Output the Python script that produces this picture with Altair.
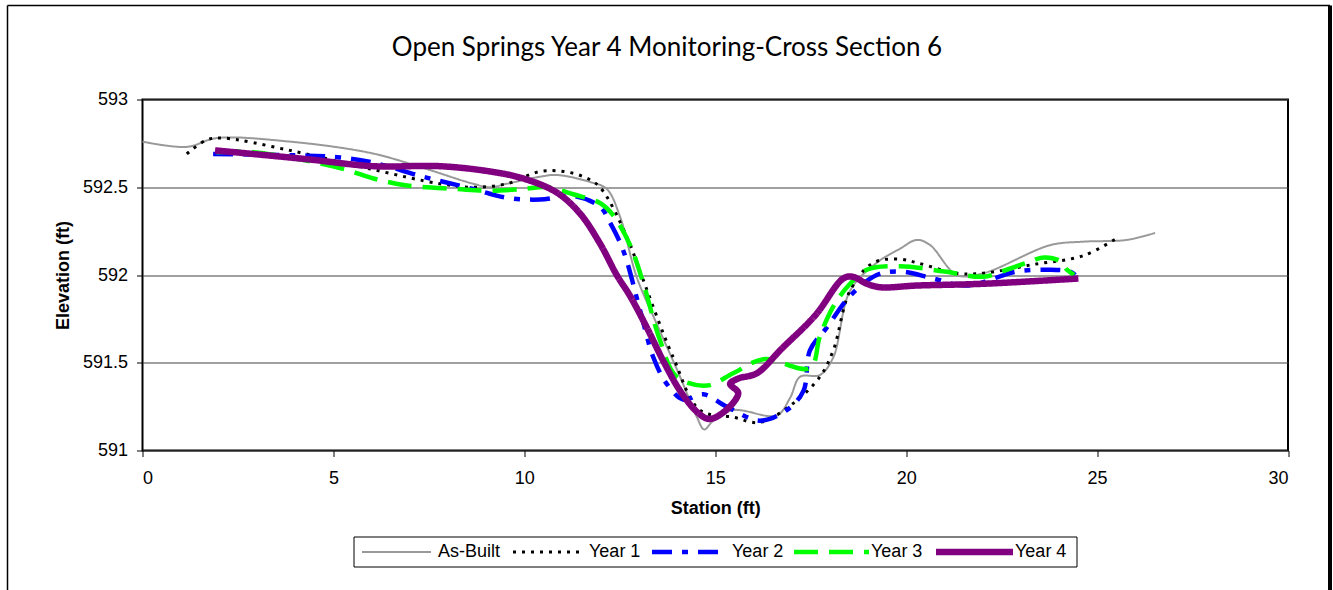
import altair as alt
import pandas as pd

# Series styling
series_names = ["As-Built", "Year 1", "Year 2", "Year 3", "Year 4"]
series_colors = ["#999999", "#000000", "#0000FF", "#00FF00", "#800080"]
series_dashes = [[1, 0], [3, 6], [20, 10, 6, 10], [24, 11], [1, 0]]
series_widths = [2, 3, 4.5, 4.5, 6.5]

# Surveyed cross-section points (station ft, elevation ft)
asbuilt_station = [0, 1.16, 1.94, 3.86, 5.87, 6.92, 8.66, 9.10, 9.54, 10.41, 10.85,
                   11.72, 12.16, 12.51, 12.94, 13.47, 14.08, 14.52, 14.71, 14.95,
                   15.47, 16.61, 16.96, 17.22, 17.74, 18.09, 18.53, 19.23, 19.84,
                   20.28, 20.63, 21.33, 22.02, 23.77, 24.64, 25.78, 26.52]
asbuilt_elev = [592.76, 592.73, 592.78, 592.76, 592.70, 592.64, 592.52, 592.50, 592.52,
                592.56, 592.57, 592.53, 592.49, 592.33, 591.99, 591.72, 591.42, 591.19,
                591.12, 591.17, 591.23, 591.20, 591.30, 591.42, 591.43, 591.53, 591.91,
                592.07, 592.15, 592.20, 592.17, 592.00, 592.01, 592.17, 592.19, 592.20,
                592.24]

year1_station = [1.16, 1.68, 2.12, 3.86, 6.05, 7.79, 8.66, 9.54, 10.41, 11.02, 11.55,
                 11.98, 12.68, 13.03, 13.90, 14.60, 15.47, 16.17, 17.05, 17.74, 18.09,
                 18.53, 19.14, 19.84, 20.28, 21.33, 22.02, 23.33, 24.64, 25.52]
year1_elev = [592.69, 592.77, 592.78, 592.71, 592.60, 592.52, 592.50, 592.52, 592.59,
              592.59, 592.56, 592.50, 592.22, 592.02, 591.53, 591.23, 591.19, 591.16,
              591.27, 591.42, 591.57, 591.91, 592.07, 592.09, 592.07, 592.01, 592.01,
              592.06, 592.11, 592.21]

year2_station = [1.85, 4.30, 5.17, 6.05, 7.35, 8.66, 9.54, 10.41, 11.28, 11.98, 12.24,
                 12.59, 13.03, 13.38, 13.73, 14.16, 14.69, 15.30, 16.17, 16.87, 17.31,
                 17.48, 17.92, 18.53, 19.23, 19.84, 20.71, 21.59, 22.90, 23.77, 24.29,
                 24.43]
year2_elev = [592.69, 592.68, 592.67, 592.64, 592.56, 592.49, 592.44, 592.43, 592.45,
              592.39, 592.30, 592.14, 591.80, 591.53, 591.38, 591.29, 591.32, 591.25,
              591.17, 591.23, 591.34, 591.57, 591.70, 591.88, 592.00, 592.02, 591.98,
              591.94, 592.02, 592.03, 592.02, 592.00]

year3_station = [1.94, 2.90, 5.17, 6.05, 6.92, 8.23, 9.10, 9.97, 10.59, 11.28, 11.98,
                 12.33, 12.77, 13.12, 13.55, 13.99, 14.78, 15.47, 16.26, 17.48, 17.74,
                 18.09, 18.53, 18.97, 19.84, 21.00, 22.02, 22.63, 23.16, 23.60, 24.03,
                 24.21, 24.40]
year3_elev = [592.70, 592.70, 592.61, 592.55, 592.51, 592.49, 592.48, 592.49, 592.50,
              592.46, 592.41, 592.34, 592.17, 591.95, 591.63, 591.42, 591.37, 591.44,
              591.52, 591.47, 591.65, 591.82, 591.95, 592.03, 592.05, 592.02, 591.99,
              592.03, 592.07, 592.10, 592.08, 592.03, 592.00]

year4_station = [1.90, 4.30, 6.05, 7.79, 9.10, 9.97, 10.85, 11.46, 11.98, 12.42, 12.77,
                 13.21, 13.64, 14.08, 14.52, 14.82, 15.10, 15.50, 15.60, 15.39, 15.60,
                 16.09, 16.74, 17.62, 18.35, 18.60, 18.97, 19.32, 20.28, 22.02, 24.51]
year4_elev = [592.71, 592.66, 592.62, 592.62, 592.59, 592.55, 592.47, 592.35, 592.18,
              592.00, 591.88, 591.70, 591.51, 591.34, 591.22, 591.18, 591.20, 591.28,
              591.33, 591.38, 591.41, 591.44, 591.58, 591.77, 591.98, 591.99, 591.95,
              591.93, 591.94, 591.95, 591.98]

x_ticks = [0, 5, 10, 15, 20, 25, 30]
y_ticks = [591, 591.5, 592, 592.5, 593]

chart_title = "Open Springs Year 4 Monitoring-Cross Section 6"

# Legend layout (pixels relative to the plot area's top-left corner)
legend_box = [211.5, 437.5, 934.5, 467.5]
legend_sym_x0 = [219.5, 370.5, 509.5, 651.5, 793.5]
legend_sym_x1 = [288.5, 440.5, 582.5, 726.5, 870.5]
legend_text_x = [295.5, 446.5, 589.5, 728.5, 872.5]
legend_mid_y = 452.5

station_lists = [asbuilt_station, year1_station, year2_station, year3_station, year4_station]
elev_lists = [asbuilt_elev, year1_elev, year2_elev, year3_elev, year4_elev]

rows = []
for name, xs, ys in zip(series_names, station_lists, elev_lists):
    for i, (sx, sy) in enumerate(zip(xs, ys)):
        rows.append({"series": name, "idx": i, "station": sx, "elevation": sy})
df = pd.DataFrame(rows)

PLOT_W = 1145.5
PLOT_H = 351
FONT = "Liberation Sans"

x_enc = alt.X(
    "station:Q",
    scale=alt.Scale(domain=[0, 30], nice=False, zero=False),
    axis=alt.Axis(values=x_ticks, title="Station (ft)", format="d", grid=False,
                  labelPadding=13, titlePadding=12),
)
y_enc = alt.Y(
    "elevation:Q",
    scale=alt.Scale(domain=[591, 593], nice=False, zero=False),
    axis=alt.Axis(values=y_ticks, title="Elevation (ft)", format="~g",
                  labelPadding=9, titlePadding=10),
)
color_enc = alt.Color("series:N", scale=alt.Scale(domain=series_names, range=series_colors),
                      legend=None)
dash_enc = alt.StrokeDash("series:N", scale=alt.Scale(domain=series_names, range=series_dashes),
                          legend=None)
width_enc = alt.StrokeWidth("series:N",
                            scale=alt.Scale(type="ordinal", domain=series_names, range=series_widths),
                            legend=None)

layers = []
for name in series_names:
    layers.append(
        alt.Chart(df)
        .transform_filter(alt.datum.series == name)
        .mark_line(interpolate="catmull-rom", strokeCap="butt", strokeJoin="round")
        .encode(x=x_enc, y=y_enc, color=color_enc, strokeDash=dash_enc,
                strokeWidth=width_enc, order=alt.Order("idx:Q"))
    )

one = alt.Data(values=[{}])

# Outer chart frame
frame_left = alt.Chart(one).mark_rule(color="black", strokeWidth=1.5).encode(
    x=alt.value(-135), y=alt.value(-94), y2=alt.value(PLOT_H + 140))
frame_top = alt.Chart(one).mark_rule(color="black", strokeWidth=1.5).encode(
    x=alt.value(-135), x2=alt.value(1187.5), y=alt.value(-94))
frame_right = alt.Chart(one).mark_rule(color="black", strokeWidth=4).encode(
    x=alt.value(1187.5), y=alt.value(-94), y2=alt.value(PLOT_H + 140))

title_mark = alt.Chart(one).mark_text(
    text=chart_title, font="Lato", fontSize=26, color="black",
    align="center", baseline="middle",
).encode(x=alt.value(524.5), y=alt.value(-51.5))

# Legend: box, line samples and labels
legend_layers = [
    alt.Chart(one).mark_rect(fill="white", stroke="black", strokeWidth=1).encode(
        x=alt.value(legend_box[0]), y=alt.value(legend_box[1]),
        x2=alt.value(legend_box[2]), y2=alt.value(legend_box[3]))
]
for i, name in enumerate(series_names):
    legend_layers.append(
        alt.Chart(one).mark_rule(
            color=series_colors[i], strokeDash=series_dashes[i],
            strokeWidth=series_widths[i], strokeCap="butt",
        ).encode(x=alt.value(legend_sym_x0[i]), x2=alt.value(legend_sym_x1[i]),
                 y=alt.value(legend_mid_y))
    )
    legend_layers.append(
        alt.Chart(one).mark_text(
            text=name, font=FONT, fontSize=18, color="black",
            align="left", baseline="middle",
        ).encode(x=alt.value(legend_text_x[i]), y=alt.value(legend_mid_y))
    )

chart = (
    alt.layer(frame_left, frame_top, frame_right, title_mark, *layers, *legend_layers)
    .properties(
        width=PLOT_W,
        height=PLOT_H,
        autosize=alt.AutoSizeParams(type="none"),
        padding={"left": 142.5, "top": 99.5, "right": 45, "bottom": 139.5},
        background="white",
    )
    .configure_view(stroke="black", strokeWidth=2)
    .configure_axis(
        labelFont=FONT, labelFontSize=18, labelColor="black",
        titleFont=FONT, titleFontSize=18, titleFontWeight="bold", titleColor="black",
        domain=False, tickColor="black", tickSize=6, tickWidth=1,
        gridColor="#404040", gridWidth=1,
    )
)

chart.save("out.html", embed_options={"renderer": "svg", "actions": False})
